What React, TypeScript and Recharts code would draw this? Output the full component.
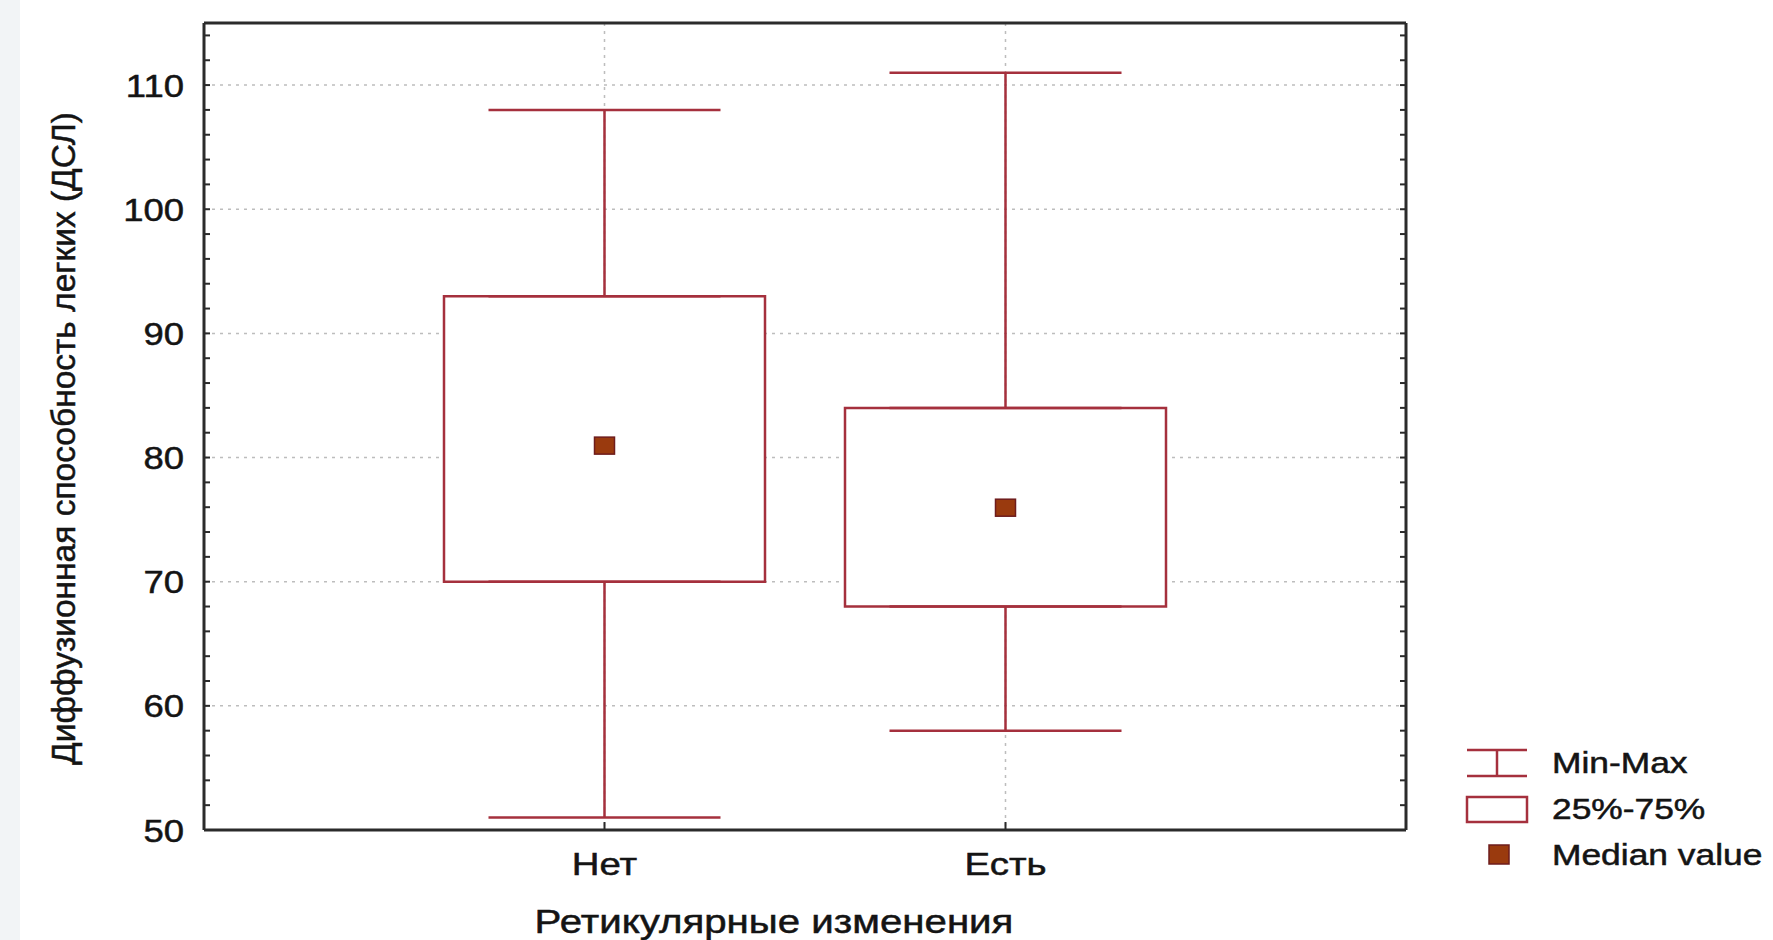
import {
  ComposedChart,
  Bar,
  Scatter,
  ErrorBar,
  XAxis,
  YAxis,
  CartesianGrid,
  Legend,
} from 'recharts';

const categories = ['Нет', 'Есть'];
const minValues = [51, 58];
const q1Values = [70, 68];
const medianValues = [81, 76];
const q3Values = [93, 84];
const maxValues = [108, 111];

const yTicks = [50, 60, 70, 80, 90, 100, 110];
const yMinorTicks = [
  50, 52, 54, 56, 58, 60, 62, 64, 66, 68, 70, 72, 74, 76, 78, 80, 82, 84, 86, 88, 90, 92, 94, 96, 98, 100,
  102, 104, 106, 108, 110, 112, 114,
];

const legendLabels = ['Min-Max', '25%-75%', 'Median value'];

const yTitle = 'Диффузионная способность легких (ДСЛ)';
const xTitle = 'Ретикулярные изменения';

const data = categories.map((name, i) => ({
  name,
  box: [q1Values[i], q3Values[i]],
  q1: q1Values[i],
  q3: q3Values[i],
  median: medianValues[i],
  lowErr: [q1Values[i] - minValues[i], 0],
  highErr: [0, maxValues[i] - q3Values[i]],
}));

const FONT = '"Liberation Sans", Arial, sans-serif';
const RED = '#a5303d';
const AXIS = '#2b2b2b';
const TEXT = '#141414';
// slight outline so the text looks as heavy as the scanned original
const textStyle = { fontFamily: FONT, fill: TEXT, stroke: TEXT, strokeWidth: 0.5 };

const YTick = ({ x, y, payload }: any) => (
  <text
    transform={`translate(${x},${y}) scale(1.14,1)`}
    textAnchor="end"
    dy="0.36em"
    fontSize={32}
    {...textStyle}
  >
    {payload.value}
  </text>
);

const XTick = ({ x, y, payload }: any) => (
  <text
    transform={`translate(${x},${y}) scale(1.2,1)`}
    textAnchor="middle"
    dy="0.71em"
    fontSize={32}
    {...textStyle}
  >
    {payload.value}
  </text>
);

const MedianShape = ({ cx, cy }: any) => (
  <rect x={cx - 10} y={cy - 8} width={20} height={17} fill="#9a3a0e" stroke="#6e1c1c" strokeWidth={1.5} />
);

const Hidden = () => <g />;

const LegendBox = () => (
  <svg width={320} height={140} style={{ display: 'block' }}>
    <line x1={12} y1={10} x2={72} y2={10} stroke={RED} strokeWidth={2.5} />
    <line x1={42} y1={10} x2={42} y2={36} stroke={RED} strokeWidth={2.5} />
    <line x1={12} y1={36} x2={72} y2={36} stroke={RED} strokeWidth={2.5} />
    <rect x={12} y={57} width={60} height={25} fill="#fff" stroke={RED} strokeWidth={2.5} />
    <rect x={34} y={105} width={20} height={19} fill="#9a3a0e" stroke="#6e1c1c" strokeWidth={1.5} />
    {legendLabels.map((label, i) => (
      <text key={label} transform={`translate(97,${33 + i * 46}) scale(1.22,1)`} fontSize={29} {...textStyle}>
        {label}
      </text>
    ))}
  </svg>
);

export default function App() {
  return (
    <div style={{ position: 'absolute', left: 0, top: 0, width: 1773, height: 940, background: '#fff' }}>
      <div style={{ position: 'absolute', left: 0, top: 0, width: 20, height: 940, background: '#f2f4f6' }} />
      <div style={{ position: 'absolute', left: 0, top: 0 }}>
        <ComposedChart width={1773} height={940} data={data} margin={{ top: 23, right: 367, bottom: 0, left: 0 }}>
          <CartesianGrid stroke="#bdbdbd" strokeDasharray="3 5" strokeWidth={1.5} />
          <XAxis
            dataKey="name"
            type="category"
            padding={{ left: 200, right: 200 }}
            height={110}
            tickLine={false}
            tickSize={0}
            tickMargin={22}
            axisLine={{ stroke: AXIS, strokeWidth: 3 }}
            tick={<XTick />}
            label={{
              content: ({ viewBox }: any) => (
                <text
                  transform={`translate(${viewBox.x + viewBox.width / 2 - 31},${viewBox.y + 103}) scale(1.22,1)`}
                  textAnchor="middle"
                  fontSize={33}
                  {...textStyle}
                >
                  {xTitle}
                </text>
              ),
            }}
          />
          <XAxis
            xAxisId="inner"
            dataKey="name"
            type="category"
            padding={{ left: 200, right: 200 }}
            mirror
            tick={<Hidden />}
            tickSize={8}
            tickLine={{ stroke: AXIS, strokeWidth: 2 }}
            axisLine={false}
          />
          <XAxis
            xAxisId="top"
            dataKey="name"
            type="category"
            orientation="top"
            mirror
            tick={false}
            tickLine={false}
            axisLine={{ stroke: AXIS, strokeWidth: 3 }}
          />
          <YAxis
            type="number"
            domain={[50, 115]}
            allowDataOverflow
            ticks={yTicks}
            width={204}
            tickLine={false}
            tickSize={0}
            tickMargin={20}
            axisLine={{ stroke: AXIS, strokeWidth: 3 }}
            tick={<YTick />}
            label={{
              content: ({ viewBox }: any) => {
                const cx = viewBox.x + 63;
                const cy = viewBox.y + viewBox.height / 2 + 12;
                return (
                  <text
                    transform={`translate(${cx},${cy}) rotate(-90)`}
                    textAnchor="middle"
                    dy="0.36em"
                    fontSize={33.5}
                    {...textStyle}
                  >
                    {yTitle}
                  </text>
                );
              },
            }}
          />
          <YAxis
            yAxisId="leftMinor"
            type="number"
            domain={[50, 115]}
            allowDataOverflow
            ticks={yMinorTicks}
            interval={0}
            mirror
            tick={<Hidden />}
            tickSize={6}
            tickLine={{ stroke: AXIS, strokeWidth: 2 }}
            axisLine={false}
          />
          <YAxis
            yAxisId="right"
            orientation="right"
            type="number"
            domain={[50, 115]}
            allowDataOverflow
            ticks={yMinorTicks}
            interval={0}
            mirror
            tick={<Hidden />}
            tickSize={6}
            tickLine={{ stroke: AXIS, strokeWidth: 2 }}
            axisLine={{ stroke: AXIS, strokeWidth: 3 }}
          />
          <Bar
            dataKey="box"
            barSize={321}
            fill="#ffffff"
            stroke={RED}
            strokeWidth={2.5}
            isAnimationActive={false}
          />
          <Scatter dataKey="q1" shape={<Hidden />} isAnimationActive={false}>
            <ErrorBar dataKey="lowErr" direction="y" width={116} stroke={RED} strokeWidth={2.5} />
          </Scatter>
          <Scatter dataKey="q3" shape={<Hidden />} isAnimationActive={false}>
            <ErrorBar dataKey="highErr" direction="y" width={116} stroke={RED} strokeWidth={2.5} />
          </Scatter>
          <Scatter dataKey="median" shape={<MedianShape />} isAnimationActive={false} />
          <Legend
            layout="vertical"
            align="center"
            verticalAlign="middle"
            content={() => <LegendBox />}
            wrapperStyle={{ position: 'absolute', left: 1455, top: 740, width: 320, height: 140 }}
          />
        </ComposedChart>
      </div>
    </div>
  );
}
